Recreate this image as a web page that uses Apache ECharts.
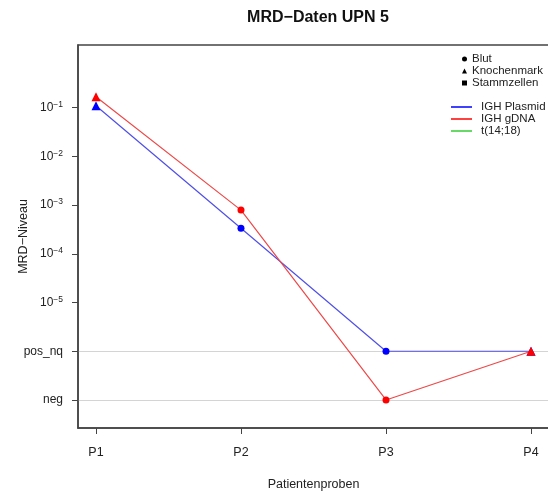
<!DOCTYPE html>
<html>
<head>
<meta charset="utf-8">
<script src="https://cdn.jsdelivr.net/npm/echarts@6/dist/echarts.min.js"></script>
<style>
html,body{margin:0;padding:0;background:#fff;}
#chart{width:548px;height:495px;}
</style>
</head>
<body>
<div id="chart"></div>
<script>
// ---- data ----
const categories = ['P1', 'P2', 'P3', 'P4'];
const sampleTypes = ['Knochenmark', 'Blut', 'Blut', 'Knochenmark'];
const plasmidValues = [0.11, 3.35e-4, 'pos_nq', 'pos_nq'];
const gdnaValues = [0.168, 7.9e-4, 'neg', 'pos_nq'];
const t1418Values = [];
const yTickValues = [-7, -6, -5, -4, -3, -2, -1];
const yTickLabels = ['neg', 'pos_nq', '10^-5', '10^-4', '10^-3', '10^-2', '10^-1'];

// ---- helpers ----
const specialLevels = { 'pos_nq': -6, 'neg': -7 };
const symbolFor = { 'Blut': 'circle', 'Knochenmark': 'triangle', 'Stammzellen': 'rect' };
function toLevel(v) { return (typeof v === 'string') ? specialLevels[v] : Math.log10(v); }
function buildData(vals) {
  return vals.map((v, i) => ({
    value: [i + 1, toLevel(v)],
    symbol: symbolFor[sampleTypes[i]],
    symbolSize: sampleTypes[i] === 'Knochenmark' ? 9 : 7
  }));
}
const FONT = '"Liberation Sans", Arial, sans-serif';

const chart = echarts.init(document.getElementById('chart'), null, { renderer: 'canvas' });
chart.setOption({
  animation: false,
  backgroundColor: '#fff',
  textStyle: { fontFamily: FONT },
  title: {
    text: 'MRD\u2212Daten UPN 5',
    left: 313, top: 5, textAlign: 'center',
    textStyle: { fontFamily: FONT, fontSize: 16, fontWeight: 'bold', color: '#111' }
  },
  grid: {
    left: 78, top: 45, right: -1, bottom: 67,
    outerBoundsMode: 'none', containLabel: false,
    show: true, borderColor: '#444', borderWidth: 1.5, backgroundColor: 'transparent'
  },
  legend: [
    {
      orient: 'vertical', left: 462, top: 53, itemGap: 0, padding: 0,
      itemWidth: 5, itemHeight: 5, selectedMode: false,
      textStyle: { fontFamily: FONT, fontSize: 11.5, color: '#222', lineHeight: 10.5 },
      data: [
        { name: 'Blut', icon: 'circle' },
        { name: 'Knochenmark', icon: 'triangle' },
        { name: 'Stammzellen', icon: 'rect' }
      ]
    },
    {
      orient: 'vertical', left: 451, top: 101, itemGap: 0, padding: 0,
      itemWidth: 21, itemHeight: 1.5, selectedMode: false,
      textStyle: { fontFamily: FONT, fontSize: 11.5, color: '#222', lineHeight: 10, padding: [0, 0, 0, 4] },
      data: [
        { name: 'IGH Plasmid', icon: 'rect' },
        { name: 'IGH gDNA', icon: 'rect' },
        { name: 't(14;18)', icon: 'rect' }
      ]
    }
  ],
  xAxis: {
    type: 'value', min: 0.876, max: 4.124,
    name: 'Patientenproben', nameLocation: 'middle', nameGap: 50, nameMoveOverlap: false,
    nameTextStyle: { fontFamily: FONT, fontSize: 12.5, color: '#222' },
    axisLine: { show: true, onZero: false, lineStyle: { color: '#444', width: 1.5 } },
    axisTick: { show: true, length: 6, customValues: [1, 2, 3, 4], lineStyle: { color: '#444' } },
    axisLabel: {
      customValues: [1, 2, 3, 4], margin: 18,
      fontFamily: FONT, fontSize: 12.5, color: '#222',
      formatter: v => categories[Math.round(v) - 1] || ''
    },
    splitLine: { show: false }
  },
  yAxis: {
    type: 'value', min: -7.575, max: 0.287,
    name: 'MRD\u2212Niveau', nameLocation: 'middle', nameGap: 48, nameRotate: 90, nameMoveOverlap: false,
    nameTextStyle: { fontFamily: FONT, fontSize: 12.5, color: '#222' },
    axisLine: { show: true, onZero: false, lineStyle: { color: '#444', width: 1.5 } },
    axisTick: { show: true, length: 6, customValues: yTickValues, lineStyle: { color: '#444' } },
    axisLabel: {
      customValues: yTickValues, margin: 15,
      fontFamily: FONT, fontSize: 12, color: '#222',
      formatter: v => {
        const idx = yTickValues.indexOf(Math.round(v));
        const lab = idx >= 0 ? yTickLabels[idx] : '';
        if (lab.indexOf('^') >= 0) {
          const p = lab.split('^');
          return '{b|' + p[0] + '}{s|' + p[1].replace('-', '\u2212') + '}';
        }
        return '{b|' + lab + '}';
      },
      rich: {
        b: { fontFamily: FONT, fontSize: 12, color: '#222' },
        s: { fontFamily: FONT, fontSize: 8.5, color: '#222', verticalAlign: 'top', padding: [0, 0, 6, 0] }
      }
    },
    splitLine: { show: false }
  },
  series: [
    {
      name: 'grid', type: 'line', data: [], silent: true, z: 0,
      markLine: {
        silent: true, symbol: 'none', label: { show: false }, z: 0,
        lineStyle: { color: '#d4d4d4', width: 1, type: 'solid' },
        data: [{ yAxis: specialLevels['pos_nq'] }, { yAxis: specialLevels['neg'] }]
      }
    },
    { name: 'Blut', type: 'line', data: [], itemStyle: { color: '#000' }, lineStyle: { color: '#000' } },
    { name: 'Knochenmark', type: 'line', data: [], itemStyle: { color: '#000' }, lineStyle: { color: '#000' } },
    { name: 'Stammzellen', type: 'line', data: [], itemStyle: { color: '#000' }, lineStyle: { color: '#000' } },
    {
      name: 'IGH Plasmid', type: 'line', data: buildData(plasmidValues), z: 3,
      lineStyle: { color: '#5050e8', width: 1.2 }, itemStyle: { color: '#0000ff' }, color: '#4a4af0'
    },
    {
      name: 'IGH gDNA', type: 'line', data: buildData(gdnaValues), z: 4,
      lineStyle: { color: '#ee4848', width: 1.2 }, itemStyle: { color: '#ff0000' }, color: '#ee4848'
    },
    {
      name: 't(14;18)', type: 'line', data: t1418Values,
      lineStyle: { color: '#33cc33' }, itemStyle: { color: '#33cc33' }, color: '#33cc33'
    }
  ]
});
</script>
</body>
</html>
